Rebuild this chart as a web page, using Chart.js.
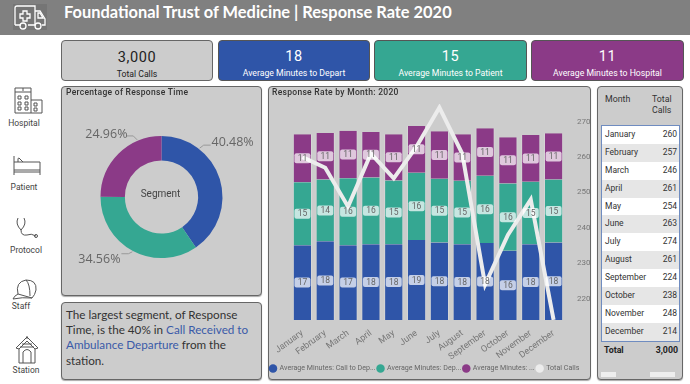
<!DOCTYPE html>
<html>
<head>
<meta charset="utf-8">
<script src="https://cdn.jsdelivr.net/npm/chart.js@4"></script>
<style>
  html, body { margin: 0; padding: 0; background: #fff; width: 690px; height: 384px; overflow: hidden; }
  body { font-family: "Open Sans", sans-serif; position: relative; }
  .abs { position: absolute; box-sizing: border-box; }
  #header { left: 0; top: 0; width: 690px; height: 35px; background: #808080; }
  #title { left: 64px; top: 0; height: 24px; line-height: 24px; color: #fff; font-family: Lato, sans-serif; font-weight: 700; font-size: 16.4px; white-space: nowrap; }
  .panel { background: #ccc; border: 1.5px solid #666; border-radius: 4px; box-shadow: 0 1px 1px #aaa; }
  .kpi { top: 40px; height: 41px; text-align: center; border-radius: 4px; border: 1px solid #555; color: #fff; font-family: Roboto, sans-serif; }
  .kpi b { display: block; font-weight: 400; font-size: 14.5px; line-height: 18px; margin-top: 7px; letter-spacing: .6px; }
  .kpi span { display: block; font-size: 8.7px; line-height: 12px; margin-top: 1px; }
  .ptitle { font-family: Roboto, sans-serif; font-size: 8.5px; color: #333; font-weight: 500; letter-spacing: .3px; white-space: nowrap; }
  #note { left: 61px; top: 302px; width: 201px; height: 78px; padding: 4px 3px 0 4px; font-family: Lato, sans-serif; font-size: 11.7px; line-height: 15.2px; color: #333; }
  #note em { font-style: normal; color: #3a5aa8; }
  .nav { width: 46px; text-align: center; font-family: Roboto, sans-serif; font-size: 8.5px; color: #444; }
  svg.icon { position: absolute; fill: none; stroke: #555; stroke-width: 1; }
  #tbl { left: 601px; top: 125px; width: 79px; border: 1px solid #6f8cc0; background: #fff; font-family: Roboto, sans-serif; font-size: 8.5px; color: #333; }
  #tbl div { height: 17.9px; line-height: 17.9px; padding: 0 2px 0 3px; display: flex; justify-content: space-between; }
  #tbl div:nth-child(even) { background: #e6e6e6; }
  .thead { font-family: Roboto, sans-serif; font-size: 8.8px; color: #333; line-height: 11px; }
</style>
</head>
<body>
<div id="header" class="abs"></div>
<svg class="icon" style="left:13px;top:4px;background:#757575;stroke:#fff;stroke-width:1.3" width="34" height="26" viewBox="0 0 34 26">
  <path d="M2 21V4Q2 2 4 2H22V21H15M22 7H27L32 15V21H29M8 21H2M22 21H21"/>
  <circle cx="10" cy="22" r="3"/><circle cx="25" cy="22" r="3"/>
  <path d="M10 7h4v3h3v4h-3v3h-4v-3H7v-4h3z"/><path d="M25 9h2l3 5h-5z"/>
</svg>
<div id="title" class="abs">Foundational Trust of Medicine | Response Rate 2020</div>

<div class="abs kpi" style="left:61px;width:152px;background:#ccc;color:#222;border-color:#666;"><b id="kpi0" style="margin-top:8px"></b><span>Total Calls</span></div>
<div class="abs kpi" style="left:218px;width:152px;background:#2f55a8;"><b id="kpi1"></b><span>Average Minutes to Depart</span></div>
<div class="abs kpi" style="left:374px;width:153px;background:#35a792;"><b id="kpi2"></b><span>Average Minutes to Patient</span></div>
<div class="abs kpi" style="left:531px;width:153px;background:#8b3a87;"><b id="kpi3"></b><span>Average Minutes to Hospital</span></div>

<!-- side nav -->
<svg class="icon" style="left:12px;top:87px" width="32" height="28" viewBox="0 0 32 28">
  <path d="M3 1H19V26H3zM3 5H19M19 13H30V26H19M11 1V4M6 9h3v3H6zM13 9h3v3h-3zM6 15h3v3H6zM13 15h3v3h-3zM6 20h3v3H6zM13 20h3v3h-3zM22 16h3v3h-3zM22 21h3v3h-3z"/>
</svg>
<div class="abs nav" style="left:1px;top:118px">Hospital</div>
<svg class="icon" style="left:13px;top:155px" width="28" height="22" viewBox="0 0 28 22">
  <path d="M1 1V20M1 7H27V20M1 15H27M5 7V4Q5 3 6 3L10 7M1 17H27"/>
</svg>
<div class="abs nav" style="left:1px;top:182px">Patient</div>
<svg class="icon" style="left:15px;top:216px" width="24" height="24" viewBox="0 0 24 24">
  <path d="M3 2Q0 8 6 14Q12 8 9 2M6 14Q6 20 12 19Q16 17 21 20"/><circle cx="21" cy="20" r="1.5"/>
</svg>
<div class="abs nav" style="left:3px;top:245px">Protocol</div>
<svg class="icon" style="left:12px;top:278px" width="26" height="24" viewBox="0 0 26 24">
  <path d="M6 16Q3 4 14 2Q25 2 24 12Q23 17 20 20L6 16Q2 18 1 21Q10 19 20 20M14 2Q18 6 18 18"/>
</svg>
<div class="abs nav" style="left:-2px;top:301px">Staff</div>
<svg class="icon" style="left:15px;top:336px" width="24" height="28" viewBox="0 0 24 28">
  <path d="M12 1L1 12L4 13L12 5L20 13L23 12zM12 3V0M4 13V27H20V13M8 27V16Q12 11 16 16V27M5 11H19M7 8H17"/>
</svg>
<div class="abs nav" style="left:3px;top:365px">Station</div>

<div class="abs panel" style="left:61px;top:86px;width:201px;height:210px"></div>
<canvas id="donut" class="abs" style="left:61px;top:86px" width="201" height="210"></canvas>
<div class="abs ptitle" style="left:66px;top:87px">Percentage of Response Time</div>

<div id="note" class="abs panel">The largest segment, of Response Time, is the 40% in <em>Call Received to Ambulance Departure</em> from the station.</div>

<div class="abs panel" style="left:268px;top:86px;width:323px;height:294px"></div>
<canvas id="combo" class="abs" style="left:268px;top:86px" width="323" height="296"></canvas>
<div class="abs ptitle" style="left:272px;top:87px">Response Rate by Month: 2020</div>

<div class="abs panel" style="left:597px;top:86px;width:86px;height:294px"></div>
<div class="abs thead" style="left:605px;top:94px">Month</div>
<div class="abs thead" style="left:652px;top:94px">Total<br>Calls</div>
<div id="tbl" class="abs"></div>
<div class="abs" style="left:604px;top:345px;width:74px;display:flex;justify-content:space-between;font:700 8.8px Roboto,sans-serif;color:#222"><span>Total</span><span id="tblTotal"></span></div>
<div class="abs" style="left:601px;top:372px;width:15px;height:5px;background:#eee"></div>
<div class="abs" style="left:650px;top:372px;width:25px;height:5px;background:#eee"></div>

<script>
var months = ["January", "February", "March", "April", "May", "June", "July", "August", "September", "October", "November", "December"];
var callToDepart = [17.3, 18.2, 17.3, 17.5, 17.5, 18.5, 17.9, 17.5, 17.8, 16.0, 17.5, 17.9];
var departToPatient = [14.6, 14.3, 15.5, 15.5, 14.8, 15.6, 14.8, 14.7, 15.6, 15.6, 14.5, 14.6];
var patientToHospital = [11.1, 10.8, 11.0, 10.5, 10.7, 10.8, 11.0, 10.8, 11.0, 10.7, 10.8, 10.7];
var totalCalls = [260, 257, 246, 261, 254, 263, 274, 261, 224, 238, 248, 214];
var callsTicks = [220, 230, 240, 250, 260, 270];

var segmentNames = ["Call to Depart", "Depart to Patient", "Patient to Hospital"];
var segmentShare = [40.48, 34.56, 24.96];

var kpiValues = ["3,000", "18", "15", "11"];
var grandTotal = "3,000";

var BLUE = "#2f55a8", GREEN = "#35a792", PURPLE = "#8b3a87";
var SIDES = { left: 1, right: 1, top: 0, bottom: 0 };

kpiValues.forEach(function (v, i) {
  document.getElementById("kpi" + i).textContent = v;
});

// table on the right
var tbl = document.getElementById("tbl");
months.forEach(function (m, i) {
  var row = document.createElement("div");
  row.innerHTML = "<span>" + m + "</span><span>" + totalCalls[i] + "</span>";
  tbl.appendChild(row);
});
document.getElementById("tblTotal").textContent = grandTotal;

// white-ish pills with the rounded value in the middle of every bar
var pillPlugin = {
  id: "pills",
  afterDatasetsDraw: function (chart) {
    var c = chart.ctx;
    c.save();
    c.font = "8.5px Roboto, sans-serif";
    c.textAlign = "center";
    c.textBaseline = "middle";
    [0, 1, 2].forEach(function (d) {
      chart.getDatasetMeta(d).data.forEach(function (bar, i) {
        var y = (bar.y + bar.base) / 2;
        c.fillStyle = "rgba(255,255,255,0.72)";
        c.beginPath();
        c.roundRect(bar.x - 8, y - 5, 16, 10, 2);
        c.fill();
        c.fillStyle = "#666";
        c.fillText(Math.round(chart.data.datasets[d].data[i]), bar.x, y + 0.5);
      });
    });
    c.restore();
  }
};

new Chart(document.getElementById("combo"), {
  type: "bar",
  data: {
    labels: months,
    datasets: [
      { label: "Average Minutes: Call to Dep...", data: callToDepart, backgroundColor: BLUE, borderColor: "#d6d6d6", borderWidth: SIDES, yAxisID: "y", stack: "m", order: 2 },
      { label: "Average Minutes: Dep...", data: departToPatient, backgroundColor: GREEN, borderColor: "#d6d6d6", borderWidth: SIDES, yAxisID: "y", stack: "m", order: 2 },
      { label: "Average Minutes: ...", data: patientToHospital, backgroundColor: PURPLE, borderColor: "#d6d6d6", borderWidth: SIDES, yAxisID: "y", stack: "m", order: 2 },
      { label: "Total Calls", type: "line", data: totalCalls, borderColor: "#ececec", backgroundColor: "#ececec", borderWidth: 4, tension: 0, pointRadius: 0, yAxisID: "y2", order: 1 }
    ]
  },
  plugins: [pillPlugin],
  options: {
    responsive: false,
    animation: false,
    layout: { padding: { left: 0, top: 18, right: 0, bottom: 0 } },
    datasets: { bar: { categoryPercentage: 1, barPercentage: 0.84 } },
    plugins: {
      tooltip: { enabled: false },
      legend: {
        position: "bottom",
        align: "start",
        labels: {
          usePointStyle: true,
          pointStyle: "circle",
          boxWidth: 6,
          boxHeight: 6,
          padding: 2,
          color: "#666",
          font: { size: 7.1, family: "Roboto, sans-serif" },
          sort: function (a, b) { return a.datasetIndex - b.datasetIndex; },
          generateLabels: function (chart) {
            var items = Chart.defaults.plugins.legend.labels.generateLabels(chart);
            items.forEach(function (it) { it.lineWidth = 0; it.strokeStyle = it.fillStyle; });
            return items;
          }
        }
      }
    },
    scales: {
      x: {
        stacked: true,
        grid: { display: false },
        border: { display: false },
        afterFit: function (axis) { axis.height = 43; },
        ticks: { color: "#777", font: { size: 9, family: "Roboto, sans-serif" }, minRotation: 36, maxRotation: 36, padding: 0, autoSkip: false }
      },
      y: {
        stacked: true,
        min: 0,
        max: 50,
        grid: { display: false },
        border: { display: false },
        ticks: { display: false },
        afterFit: function (axis) { axis.width = 23; }
      },
      y2: {
        position: "right",
        min: 214,
        max: 275,
        grid: { display: false },
        border: { display: false },
        afterBuildTicks: function (axis) {
          axis.ticks = callsTicks.map(function (v) { return { value: v }; });
        },
        afterFit: function (axis) { axis.width = 26; },
        ticks: { color: "#777", padding: 4, font: { size: 8, family: "Roboto, sans-serif" } }
      }
    }
  }
});

// leader lines and percent labels round the ring
var ringLabelPlugin = {
  id: "ringLabels",
  afterDatasetsDraw: function (chart) {
    var c = chart.ctx;
    var arc = chart.getDatasetMeta(0).data[0];
    var cx = arc.x, cy = arc.y, r = arc.outerRadius;
    var spots = [
      { deg: 38, dx: 8, dy: -3, tx: 50, ty: -55, align: "left" },
      { deg: 208, dx: -8, dy: 2, tx: -41, ty: 62, align: "right" },
      { deg: 337, dx: -8, dy: -4, tx: -34, ty: -63, align: "right" }
    ];
    c.save();
    c.font = "12.5px 'Open Sans', sans-serif";
    c.textBaseline = "middle";
    spots.forEach(function (s, i) {
      var a = s.deg * Math.PI / 180;
      var x = cx + Math.sin(a) * (r + 1), y = cy - Math.cos(a) * (r + 1);
      c.strokeStyle = "#999";
      c.lineWidth = 1;
      c.beginPath();
      c.moveTo(x, y);
      c.lineTo(x + s.dx / 2, y + s.dy);
      c.lineTo(x + s.dx + (s.dx > 0 ? 3 : -3), y + s.dy);
      c.stroke();
      c.fillStyle = "#666";
      c.textAlign = s.align;
      c.fillText(segmentShare[i].toFixed(2) + "%", cx + s.tx, cy + s.ty);
    });
    c.fillStyle = "#444";
    c.textAlign = "center";
    c.font = "10px Roboto, sans-serif";
    c.fillText("Segment", cx - 1, cy - 3);
    c.restore();
  }
};

new Chart(document.getElementById("donut"), {
  type: "doughnut",
  data: {
    labels: segmentNames,
    datasets: [{ data: segmentShare, backgroundColor: [BLUE, GREEN, PURPLE], borderWidth: 0, radius: 61, cutout: "60%" }]
  },
  plugins: [ringLabelPlugin],
  options: {
    responsive: false,
    animation: false,
    layout: { padding: { top: 12 } },
    plugins: { legend: { display: false }, tooltip: { enabled: false } }
  }
});
</script>
</body>
</html>
